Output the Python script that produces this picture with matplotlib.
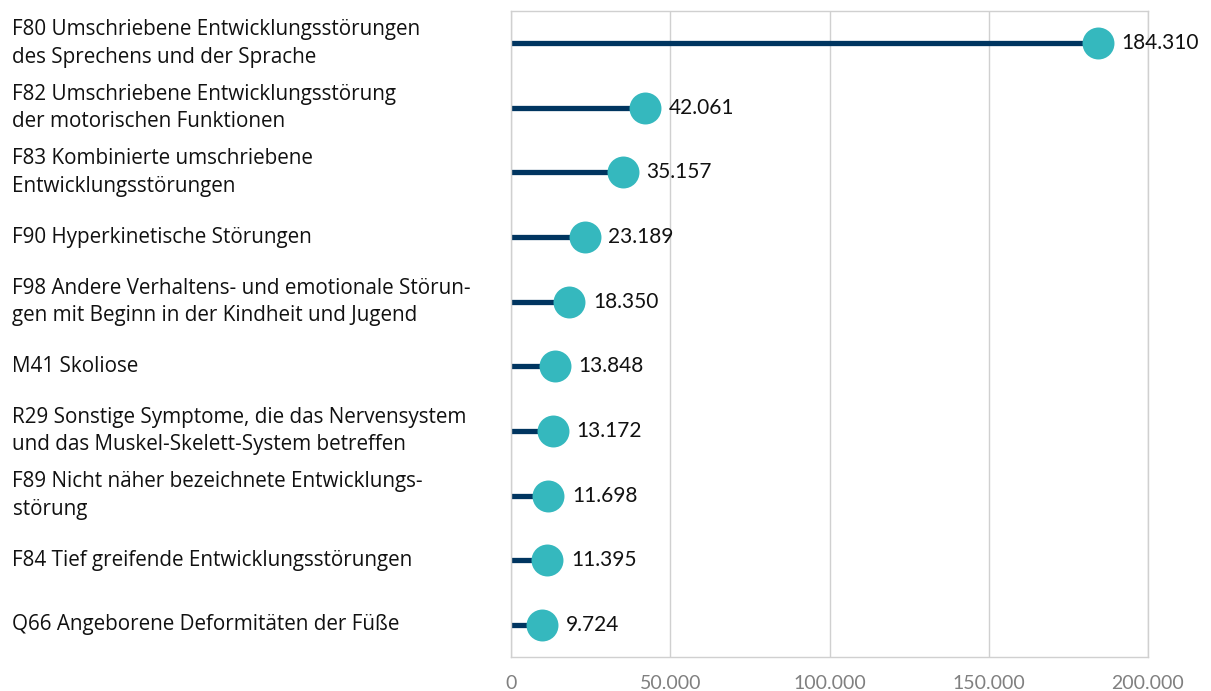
import matplotlib

matplotlib.use("Agg")
import matplotlib.pyplot as plt
from matplotlib.ticker import FuncFormatter

CATEGORIES = [
    "F80 Umschriebene Entwicklungsstörungen\ndes Sprechens und der Sprache",
    "F82 Umschriebene Entwicklungsstörung\nder motorischen Funktionen",
    "F83 Kombinierte umschriebene\nEntwicklungsstörungen",
    "F90 Hyperkinetische Störungen",
    "F98 Andere Verhaltens- und emotionale Störun-\ngen mit Beginn in der Kindheit und Jugend",
    "M41 Skoliose",
    "R29 Sonstige Symptome, die das Nervensystem\nund das Muskel-Skelett-System betreffen",
    "F89 Nicht näher bezeichnete Entwicklungs-\nstörung",
    "F84 Tief greifende Entwicklungsstörungen",
    "Q66 Angeborene Deformitäten der Füße",
]
VALUES = [184310, 42061, 35157, 23189, 18350, 13848, 13172, 11698, 11395, 9724]
X_TICKS = [0, 50000, 100000, 150000, 200000]

LINE_COLOR = "#003560"
DOT_COLOR = "#35B8BE"
GRID_COLOR = "#D0D0D0"


def de_format(v):
    return f"{int(v):,}".replace(",", ".")


fig = plt.figure(figsize=(12.11, 6.91), dpi=100)
ax = fig.add_axes([511 / 1211, 34 / 691, 637 / 1211, 646 / 691])

ys = list(range(len(VALUES)))
for y, v in zip(ys, VALUES):
    ax.plot([0, v], [y, y], color=LINE_COLOR, lw=3.8, solid_capstyle="butt", zorder=2)
ax.plot(VALUES, ys, "o", ms=23, color=DOT_COLOR, mec="none", zorder=3)
for y, v in zip(ys, VALUES):
    ax.annotate(de_format(v), xy=(v, y), xytext=(17, 0), textcoords="offset points",
                ha="left", va="center", fontsize=15, family="Lato", color="#111111")

ax.set_xlim(0, 200000)
ax.set_ylim(len(VALUES) - 0.5, -0.5)
ax.set_xticks(X_TICKS)
ax.xaxis.set_major_formatter(FuncFormatter(lambda v, _: de_format(v)))
ax.tick_params(axis="x", length=0, pad=13, labelsize=14, labelcolor="#808080")
for lab in ax.get_xticklabels():
    lab.set_family("Lato")
ax.set_yticks([])
ax.grid(True, axis="x", color=GRID_COLOR, lw=1)
ax.set_axisbelow(True)
for s in ax.spines.values():
    s.set_color(GRID_COLOR)
    s.set_linewidth(1)

for y, cat in zip(ys, CATEGORIES):
    ax.annotate(cat, xy=(0, y), xycoords=("figure fraction", "data"),
                xytext=(9, 0), textcoords="offset points",
                ha="left", va="center", fontsize=14.9, family="Open Sans",
                color="#111111", linespacing=1.4, annotation_clip=False)

fig.savefig("out.png", dpi=100)
